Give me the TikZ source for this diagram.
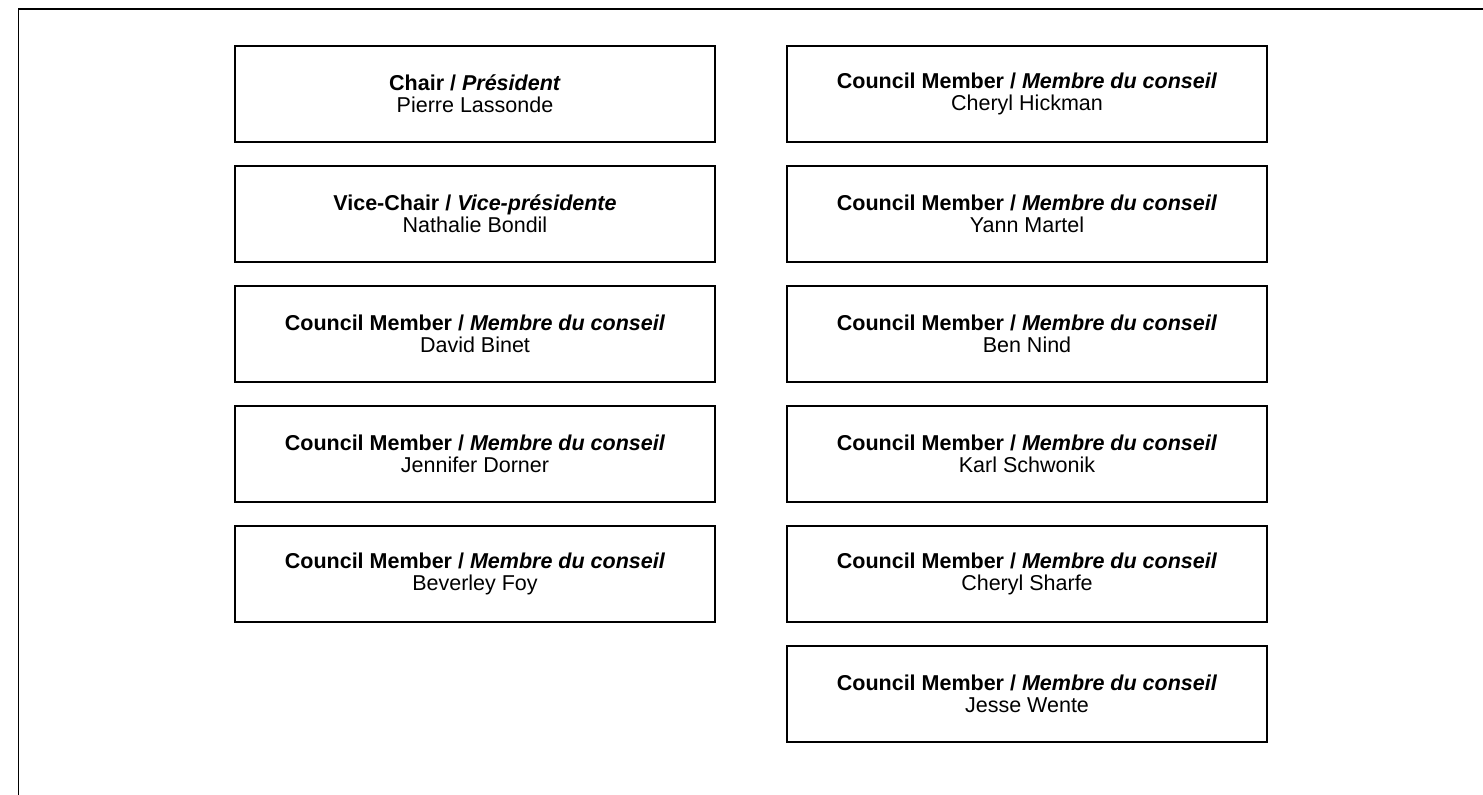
\documentclass[tikz,border=0pt]{standalone}
\usepackage{fontspec}
\setmainfont{Liberation Sans}

\tikzset{
    member/.style={draw, line width=1.5pt, minimum width=480pt, minimum height=96pt,
        align=center, inner sep=0pt, font=\fontsize{21.5}{22}\selectfont},
}
\newcommand{\council}[1]{\textbf{Council Member / \textit{Membre du conseil}}\\#1}

\begin{document}
\begin{tikzpicture}[x=1pt,y=-1pt]
    \useasboundingbox (0,0) rectangle (1483,795);
    \draw[line width=1.5pt] (18.5,795) -- (18.5,9) -- (1483,9);

    \node[member] (chair) at (475,94) {\textbf{Chair / \textit{Président}}\\Pierre Lassonde};
    \node[member] (vicechair) at (475,214) {\textbf{Vice-Chair / \textit{Vice-présidente}}\\Nathalie Bondil};
    \node[member] (binet) at (475,334) {\council{David Binet}};
    \node[member] (dorner) at (475,454) {\council{Jennifer Dorner}};
    \node[member] (foy) at (475,574) {\council{Beverley Foy}};

    \node[member] (hickman) at (1027,94) {\council{Cheryl Hickman}};
    \node[member] (martel) at (1027,214) {\council{Yann Martel}};
    \node[member] (nind) at (1027,334) {\council{Ben Nind}};
    \node[member] (schwonik) at (1027,454) {\council{Karl Schwonik}};
    \node[member] (sharfe) at (1027,574) {\council{Cheryl Sharfe}};
    \node[member] (wente) at (1027,694) {\council{Jesse Wente}};
\end{tikzpicture}
\end{document}
